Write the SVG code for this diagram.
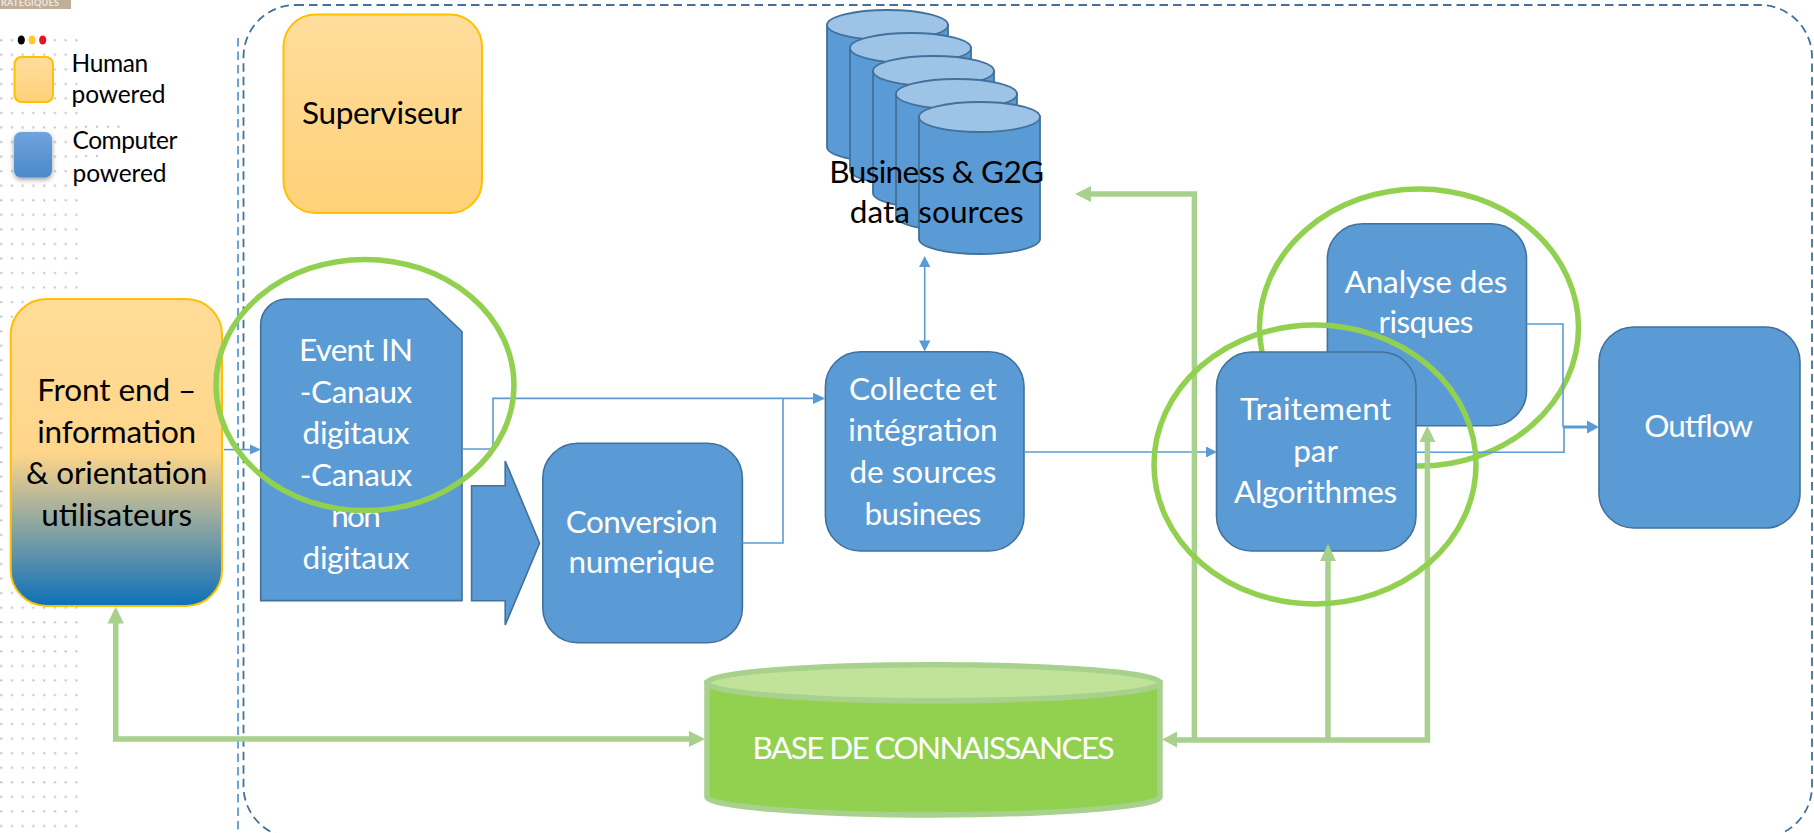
<svg xmlns="http://www.w3.org/2000/svg" width="1814" height="833" viewBox="0 0 1814 833">
<style>
text{font-family:"Lato","Liberation Sans",sans-serif;text-anchor:middle}
.t{font-size:31.5px;fill:#fff}
.k{font-size:31.5px;fill:#000}
.l{font-size:24.5px;fill:#000;text-anchor:start}
.box{fill:#5B9BD5;stroke:#41719C;stroke-width:1.6}
.human{stroke:#FFC000;stroke-width:2}
.cyl{fill:#5B9BD5;stroke:#41719C;stroke-width:1.8}
.cap{fill:#9DC3E6;stroke:#41719C;stroke-width:1.8}
.ring{fill:none;stroke:#92D050;stroke-width:5.5}
.bl{fill:none;stroke:#5B9BD5;stroke-width:1.6}
.gr{fill:none;stroke:#A9D18E;stroke-width:5.5}
.bh{fill:#5B9BD5}
.gh{fill:#A9D18E}
.dot{fill:#C8C8C8}
</style>
<defs>
<pattern id="dots" x="0" y="39" width="10.75" height="14.55" patternUnits="userSpaceOnUse"><circle cx="1.2" cy="1.2" r="1.2" fill="#C8C8C8"/></pattern>
<linearGradient id="gh1" x1="0" y1="0" x2="0" y2="1"><stop offset="0" stop-color="#FFDD9C"/><stop offset="1" stop-color="#FFD178"/></linearGradient>
<linearGradient id="gf" x1="0" y1="0" x2="0" y2="1"><stop offset="0" stop-color="#FFDC98"/><stop offset="0.5" stop-color="#FFD68A"/><stop offset="1" stop-color="#0D70BA"/></linearGradient>
<linearGradient id="gb" x1="0" y1="0" x2="0" y2="1"><stop offset="0" stop-color="#6FA3DB"/><stop offset="1" stop-color="#4A8ACB"/></linearGradient>
<filter id="sh" x="-30%" y="-30%" width="160%" height="160%"><feDropShadow dx="0" dy="2" stdDeviation="2.5" flood-color="#000" flood-opacity="0.4"/></filter>
</defs>
<g id="background">
<rect x="0" y="39" width="78" height="794" fill="url(#dots)"/>
<circle class="dot" cx="86" cy="126.8" r="1.2"/><circle class="dot" cx="97" cy="126.8" r="1.2"/><circle class="dot" cx="108" cy="126.8" r="1.2"/><circle class="dot" cx="118.5" cy="126.8" r="1.2"/>
<circle class="dot" cx="86" cy="155.9" r="1.2"/><circle class="dot" cx="97" cy="155.9" r="1.2"/>
<rect x="0" y="0" width="71" height="9" fill="#BFAE98"/>
<text x="30" y="6" font-size="9" font-weight="700" fill="#EFE9E0" textLength="58">RATEGIQUES</text>
<ellipse cx="21.3" cy="40" rx="3.6" ry="4.6" fill="#000"/>
<ellipse cx="32" cy="40" rx="3.6" ry="4.6" fill="#FFC82E"/>
<ellipse cx="42.7" cy="40" rx="3.6" ry="4.6" fill="#E8112D"/>
</g>
<g id="boundaries">
<line x1="238" y1="38" x2="238" y2="833" stroke="#5B9BD5" stroke-width="1.8" stroke-dasharray="8.5 5"/>
<rect x="243.5" y="5" width="1568.5" height="833" rx="52" ry="52" fill="none" stroke="#41719C" stroke-width="1.8" stroke-dasharray="8.5 5"/>
</g>
<g id="legend-human">
<rect x="14.5" y="57" width="38.5" height="45" rx="7" fill="url(#gh1)" class="human"/>
<text class="l" x="71.5" y="72" textLength="76.7">Human</text>
<text class="l" x="71.5" y="103" textLength="94">powered</text>
</g>
<g id="legend-computer">
<rect x="14" y="132" width="38" height="45.5" rx="7" fill="url(#gb)" filter="url(#sh)"/>
<text class="l" x="72.5" y="149" textLength="105">Computer</text>
<text class="l" x="72.5" y="182" textLength="94">powered</text>
</g>
<g id="superviseur">
<rect x="283.5" y="14.5" width="198.5" height="198.5" rx="32" fill="url(#gh1)" class="human"/>
<text class="k" x="382" y="124" textLength="160">Superviseur</text>
</g>
<g id="front-end">
<rect x="10.7" y="299" width="211.3" height="307" rx="36" fill="url(#gf)" class="human"/>
<text class="k" x="116.7" y="401" textLength="159">Front end –</text>
<text class="k" x="116.7" y="442.5" textLength="159">information</text>
<text class="k" x="116.7" y="484" textLength="181.4">&amp; orientation</text>
<text class="k" x="116.7" y="525.5" textLength="150.7">utilisateurs</text>
</g>
<g id="event-in">
<path class="box" d="M287 299H427.5L462 331.5V600.6H260.7V325.5A26 26 0 0 1 287 299Z"/>
<text class="t" x="356" y="361" textLength="114">Event IN</text>
<text class="t" x="356" y="402.5" textLength="112.5">-Canaux</text>
<text class="t" x="356" y="444" textLength="106.8">digitaux</text>
<text class="t" x="356" y="486" textLength="112.5">-Canaux</text>
<text class="t" x="356" y="527" textLength="49.6">non</text>
<text class="t" x="356" y="568.7" textLength="106.8">digitaux</text>
</g>
<g id="block-arrow">
<path class="box" d="M471.6 485.7H505.2V461L539.6 543.3L505.2 625V600.7H471.6Z"/>
</g>
<g id="conversion">
<rect class="box" x="542.8" y="443.3" width="199.6" height="199.4" rx="35"/>
<text class="t" x="641.6" y="533" textLength="151.8">Conversion</text>
<text class="t" x="641.6" y="573" textLength="146.2">numerique</text>
</g>
<g id="collecte">
<rect class="box" x="825.4" y="351.7" width="198.6" height="199.3" rx="35"/>
<text class="t" x="923" y="400" textLength="147.8">Collecte et</text>
<text class="t" x="923" y="441" textLength="149.4">intégration</text>
<text class="t" x="923" y="483.3" textLength="147">de sources</text>
<text class="t" x="923" y="525" textLength="117">businees</text>
</g>
<g id="data-sources">
<g id="cyl1"><path class="cyl" d="M827 25V147A60.5 15 0 0 0 948 147V25Z"/><ellipse class="cap" cx="887.5" cy="25" rx="60.5" ry="15"/></g>
<g id="cyl2"><path class="cyl" d="M850 48V170A60.5 15 0 0 0 971 170V48Z"/><ellipse class="cap" cx="910.5" cy="48" rx="60.5" ry="15"/></g>
<g id="cyl3"><path class="cyl" d="M873 71V193A60.5 15 0 0 0 994 193V71Z"/><ellipse class="cap" cx="933.5" cy="71" rx="60.5" ry="15"/></g>
<g id="cyl4"><path class="cyl" d="M896 94V216A60.5 15 0 0 0 1017 216V94Z"/><ellipse class="cap" cx="956.5" cy="94" rx="60.5" ry="15"/></g>
<g id="cyl5"><path class="cyl" d="M919 117V239A60.5 15 0 0 0 1040 239V117Z"/><ellipse class="cap" cx="979.5" cy="117" rx="60.5" ry="15"/></g>
<text class="k" x="936.7" y="183" textLength="214.7">Business &amp; G2G</text>
<text class="k" x="936.7" y="223" textLength="174">data sources</text>
</g>
<g id="base-connaissances">
<path d="M707 682.7V797C707 807 820 815 933.5 815S1160 807 1160 797V682.7Z" fill="#92D050" stroke="#A9D18E" stroke-width="5.5"/>
<ellipse cx="933.5" cy="682.7" rx="226.5" ry="18" fill="#C0E399" stroke="#A9D18E" stroke-width="5.5"/>
<text x="933.6" y="759" font-size="31.5" fill="#fff" textLength="362">BASE DE CONNAISSANCES</text>
</g>
<g id="analyse">
<rect class="box" x="1327.4" y="223.7" width="199.1" height="202" rx="35"/>
<text class="t" x="1426" y="293.3" textLength="163">Analyse des</text>
<text class="t" x="1426" y="333" textLength="95">risques</text>
</g>
<ellipse id="ring-analyse" class="ring" cx="1419" cy="327.5" rx="159.5" ry="138.5"/>
<g id="traitement">
<rect class="box" x="1216.5" y="352" width="199.5" height="199" rx="35"/>
<text class="t" x="1315.6" y="420" textLength="151">Traitement</text>
<text class="t" x="1315.6" y="461.7" textLength="44.5">par</text>
<text class="t" x="1315.6" y="502.7" textLength="163">Algorithmes</text>
</g>
<g id="outflow">
<rect class="box" x="1599" y="327" width="201" height="201" rx="35"/>
<text class="t" x="1698.6" y="437.3" textLength="108.7">Outflow</text>
</g>
<g id="connectors">
<path class="bl" d="M224 449.6H252"/><path class="bh" d="M261 449.6L250 444.6V454.6Z"/>
<path class="bl" d="M462 449H493V398.4H815"/>
<path class="bl" d="M742.4 543H783V398.4"/><path class="bh" d="M825.4 398.4L813 392.7V404.1Z"/>
<path class="bl" d="M924.7 264V344"/><path class="bh" d="M924.7 256L919 267H930.4Z"/><path class="bh" d="M924.7 351.5L919 340.5H930.4Z"/>
<path class="bl" d="M1024 452H1207"/><path class="bh" d="M1217 452L1206 446.5V457.5Z"/>
<path class="bl" d="M1526.5 324H1563V427"/>
<path class="bl" d="M1416 452.3H1564V427"/>
<path fill="none" stroke="#5B9BD5" stroke-width="3" d="M1563 427H1590"/><path class="bh" d="M1599 427L1587 420.5V433.5Z"/>
<path class="gr" d="M1427.4 437V740H1175"/><path class="gh" d="M1427.4 425.7L1419.4 442H1435.4Z"/><path class="gh" d="M1162 739.5L1177 731.5V747.5Z"/>
<path class="gr" d="M1328 556V739"/><path class="gh" d="M1328 544L1320 561H1336Z"/>
<path class="gr" d="M1194.4 739V194H1085"/><path class="gh" d="M1075 194L1091 186V202Z"/>
<path class="gr" d="M115.7 618V739H692"/><path class="gh" d="M115.7 606.8L107.5 623.5H123.9Z"/><path class="gh" d="M705 739L689 731V747Z"/>
</g>
<ellipse id="ring-event" class="ring" cx="365" cy="385" rx="149" ry="125.6"/>
<ellipse id="ring-traitement" class="ring" cx="1315" cy="464.5" rx="161" ry="139.5"/>
</svg>
